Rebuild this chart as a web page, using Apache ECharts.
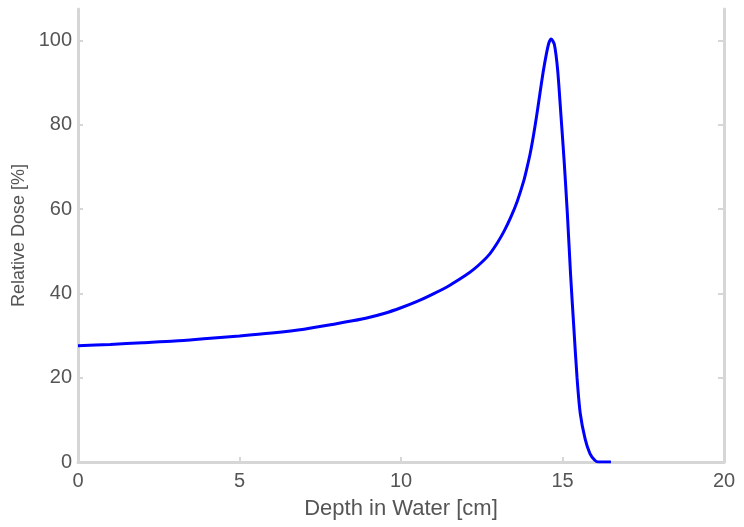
<!DOCTYPE html>
<html>
<head>
<meta charset="utf-8">
<script src="https://cdn.jsdelivr.net/npm/echarts@6/dist/echarts.min.js"></script>
<style>
  html, body { margin: 0; padding: 0; background: #fff; }
  #main { width: 744px; height: 527px; }
</style>
</head>
<body>
<div id="main"></div>
<script>
// depth (cm) and relative dose (%)
var depth = [0, 1, 2, 3, 4, 5, 6, 7, 8, 8.5, 9, 9.5, 10, 10.5, 11, 11.5, 12, 12.25, 12.5, 12.75, 13, 13.2, 13.4, 13.6, 13.8, 13.9, 14.0, 14.1, 14.2, 14.3, 14.4, 14.5, 14.58, 14.65,
             14.75, 14.85, 14.95, 15.05, 15.15, 15.25, 15.35, 15.45, 15.55, 15.7, 15.85, 16.0, 16.1, 16.5];
var dose = [27.6, 27.9, 28.3, 28.7, 29.3, 29.9, 30.6, 31.5, 32.8, 33.5, 34.3, 35.3, 36.6, 38.1, 39.9, 41.9, 44.3, 45.7, 47.4, 49.4, 52.2, 54.9, 58.1, 61.9, 66.7, 69.8, 73.2, 77.4, 82.2, 87.4, 92.5, 96.8, 99.5, 100.4,
            99, 93, 82.5, 71.5, 59, 44.5, 32, 20, 11.5, 5.5, 2, 0.4, 0, 0];
var xTicks = [0, 5, 10, 15, 20];
var yTicks = [0, 20, 40, 60, 80, 100];

var myChart = echarts.init(document.getElementById('main'));

var points = [];
for (var i = 0; i < depth.length; i++) {
    points.push([depth[i], dose[i]]);
}

var lineCol = '#d6d6d6';
var txtCol = '#555';
var font = '"Liberation Sans", Arial, sans-serif';

var option = {
    animation: false,
    backgroundColor: '#fff',
    grid: {left: 78, right: 20, top: 9, bottom: 65},
    xAxis: {
        type: 'value',
        min: 0,
        max: 20,
        interval: 5,
        name: 'Depth in Water [cm]',
        nameLocation: 'middle',
        nameGap: 36,
        nameTextStyle: {color: txtCol, fontSize: 22, fontFamily: font},
        axisLine: {show: true, lineStyle: {color: lineCol, width: 3}},
        axisTick: {show: true, inside: true, length: 5, lineStyle: {color: lineCol, width: 2}, customValues: xTicks},
        axisLabel: {color: txtCol, fontSize: 20, fontFamily: font, margin: 9, customValues: xTicks},
        splitLine: {show: false}
    },
    yAxis: [{
        type: 'value',
        min: 0,
        max: 107.5,
        name: 'Relative Dose [%]',
        nameLocation: 'middle',
        nameGap: 50,
        nameTextStyle: {color: txtCol, fontSize: 18, fontFamily: font},
        axisLine: {show: true, lineStyle: {color: lineCol, width: 3}},
        axisTick: {show: true, inside: true, length: 5, lineStyle: {color: lineCol, width: 2}, customValues: yTicks},
        axisLabel: {color: txtCol, fontSize: 20, fontFamily: font, margin: 6, customValues: yTicks},
        splitLine: {show: false}
    }, {
        type: 'value',
        position: 'right',
        min: 0,
        max: 107.5,
        axisLine: {show: true, lineStyle: {color: lineCol, width: 3}},
        axisTick: {show: true, inside: true, length: 6, lineStyle: {color: lineCol, width: 2}, customValues: yTicks},
        axisLabel: {show: false},
        splitLine: {show: false}
    }],
    series: [{
        type: 'line',
        data: points,
        showSymbol: false,
        smooth: 0.25,
        lineStyle: {color: '#0000ff', width: 3}
    }]
};

myChart.setOption(option);
</script>
</body>
</html>
